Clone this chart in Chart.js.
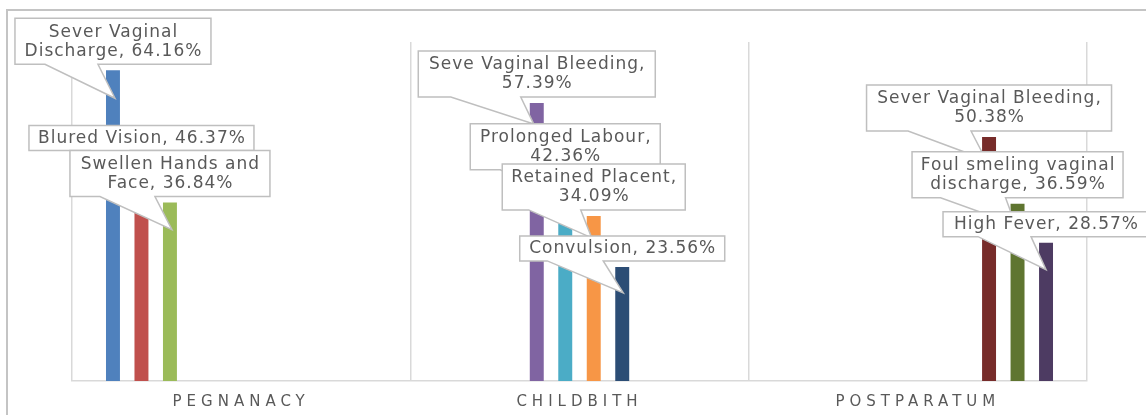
<!DOCTYPE html>
<html>
<head>
<meta charset="utf-8">
<script src="https://cdn.jsdelivr.net/npm/chart.js@4.4.0/dist/chart.umd.min.js"></script>
<style>
  html, body { margin: 0; padding: 0; background: #fff; }
  #wrap { position: relative; width: 1146px; height: 415px; overflow: hidden; }
  #frame { position: absolute; left: 6px; top: 9px; width: 1200px; height: 500px; border: 2px solid #c4c4c4; }
  canvas { position: absolute; left: 0; top: 0; }
</style>
</head>
<body>
<div id="wrap"><div id="frame"></div><canvas id="chart" width="1146" height="415"></canvas></div>
<script>
const categories = ['PEGNANACY', 'CHILDBITH', 'POSTPARATUM'];
const symptoms = [
    'Sever Vaginal Discharge', 'Blured Vision', 'Swellen Hands and Face',
    'Seve Vaginal Bleeding', 'Prolonged Labour', 'Retained Placent', 'Convulsion',
    'Sever Vaginal Bleeding', 'Foul smeling vaginal discharge', 'High Fever'
];
const percents = [64.16, 46.37, 36.84, 57.39, 42.36, 34.09, 23.56, 50.38, 36.59, 28.57];
const stageOf = [0, 0, 0, 1, 1, 1, 1, 2, 2, 2];

const colors = ['#4F81BD', '#C0504D', '#9BBB59', '#8064A2', '#4BACC6', '#F79646', '#2C4D75', '#772C2A', '#5F7530', '#4D3B62'];

// callout box width, pointer base (x offsets from bar centre) and tip (offset from bar top)
const callouts = [
    { w: 196, base: [-68, -15], tip: [2, 28] },
    { w: 225, base: [-51, -11], tip: [0, 24] },
    { w: 200, base: [-70, -15], tip: [2, 27] },
    { w: 237, base: [-86, -16], tip: [-3, 21] },
    { w: 190, base: [-65, -25], tip: [0, 24] },
    { w: 183, base: [-65, -13], tip: [-2, 22] },
    { w: 205, base: [-75, -19], tip: [1, 26] },
    { w: 245, base: [-81, -18], tip: [-3, 23] },
    { w: 211, base: [-77, -12], tip: [-2, 21] },
    { w: 206, base: [-68, -15], tip: [0, 27] }
];

function wrapText(ctx, text, maxW) {
    const words = text.split(' ');
    const lines = [];
    let cur = '';
    words.forEach(w => {
        const t = cur ? cur + ' ' + w : w;
        if (cur && ctx.measureText(t).width > maxW) {
            lines.push(cur);
            cur = w;
        } else {
            cur = t;
        }
    });
    lines.push(cur);
    return lines;
}

const spacingPlugin = {
    id: 'spacing',
    beforeDraw(chart) { chart.ctx.letterSpacing = '5px'; },
    beforeDatasetsDraw(chart) { chart.ctx.letterSpacing = '0px'; }
};

const calloutPlugin = {
    id: 'callouts',
    afterDatasetsDraw(chart) {
        const ctx = chart.ctx;
        ctx.save();
        ctx.font = '17px "DejaVu Sans"';
        ctx.letterSpacing = '1px';
        chart.data.datasets.forEach((ds, i) => {
            const bar = chart.getDatasetMeta(i).data[stageOf[i]];
            const c = callouts[i];
            const text = symptoms[i] + ', ' + percents[i].toFixed(2) + '%';
            const lines = wrapText(ctx, text, c.w - 6);
            const h = lines.length > 1 ? 46 : 25;
            const bottom = bar.y - 6;
            const top = bottom - h;
            const left = bar.x - c.w / 2;
            const right = bar.x + c.w / 2;

            ctx.beginPath();
            ctx.moveTo(left, top);
            ctx.lineTo(right, top);
            ctx.lineTo(right, bottom);
            ctx.lineTo(bar.x + c.base[1], bottom);
            ctx.lineTo(bar.x + c.tip[0], bar.y + c.tip[1]);
            ctx.lineTo(bar.x + c.base[0], bottom);
            ctx.lineTo(left, bottom);
            ctx.closePath();
            ctx.fillStyle = '#fff';
            ctx.fill();
            ctx.strokeStyle = '#bfbfbf';
            ctx.lineWidth = 1.5;
            ctx.stroke();

            ctx.fillStyle = '#595959';
            ctx.textAlign = 'center';
            ctx.textBaseline = 'middle';
            if (lines.length > 1) {
                lines.forEach((ln, k) => ctx.fillText(ln, bar.x + 0.5, top + 14 + k * 19));
            } else {
                ctx.fillText(lines[0], bar.x + 0.5, top + 13);
            }
        });
        ctx.restore();
    }
};

const datasets = symptoms.map((name, i) => ({
    label: name,
    data: categories.map((_, j) => (j === stageOf[i] ? percents[i] : null)),
    backgroundColor: colors[i],
    borderWidth: 0,
    categoryPercentage: 0.842,
    barPercentage: 0.49
}));

window.onload = function() {
    const ctx = document.getElementById('chart').getContext('2d');
    new Chart(ctx, {
        type: 'bar',
        data: { labels: categories, datasets: datasets },
        options: {
            responsive: false,
            animation: false,
            layout: { padding: { left: 72, right: 59, top: 42, bottom: 0 } },
            plugins: { legend: { display: false }, tooltip: { enabled: false } },
            scales: {
                x: {
                    offset: true,
                    grid: { offset: true, color: '#d9d9d9', lineWidth: 1.5, drawTicks: false },
                    border: { color: '#d9d9d9', width: 1.5 },
                    ticks: {
                        color: '#595959',
                        font: { family: 'DejaVu Sans', size: 15 },
                        padding: 12,
                        maxRotation: 0
                    },
                    afterFit(scale) { scale.height = 34; }
                },
                y: { display: false, min: 0, max: 70 }
            }
        },
        plugins: [spacingPlugin, calloutPlugin]
    });
};
</script>
</body>
</html>
